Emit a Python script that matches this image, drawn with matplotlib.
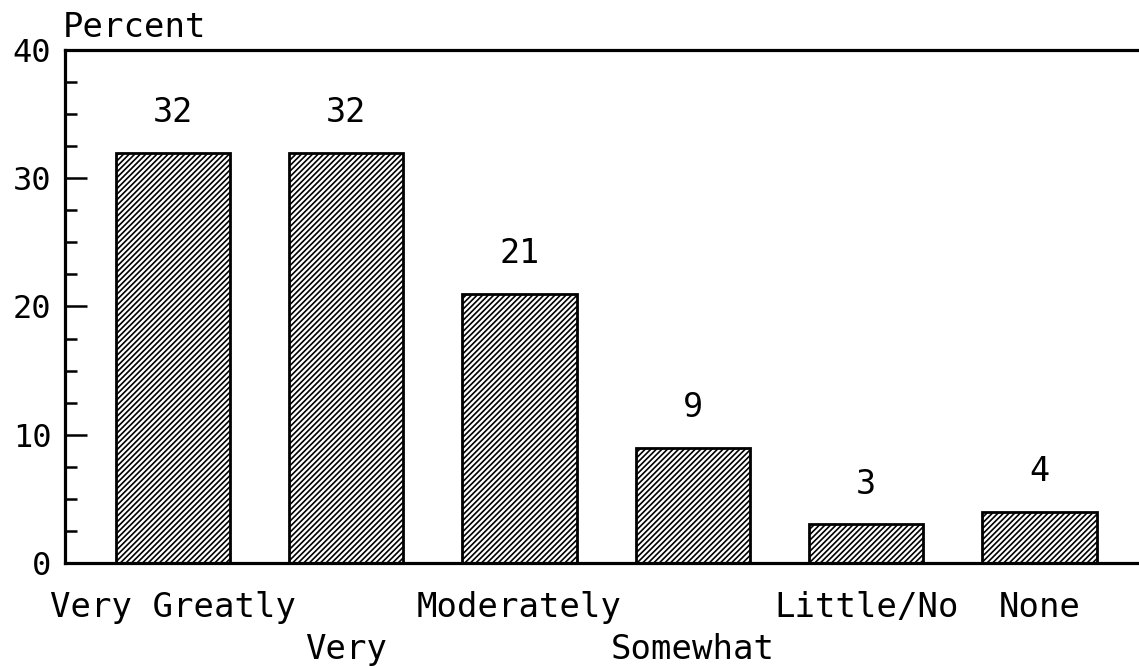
import matplotlib
matplotlib.use("Agg")
import matplotlib.pyplot as plt
from matplotlib.ticker import MultipleLocator

categories = ["Very Greatly", "Very", "Moderately", "Somewhat", "Little/No", "None"]
values = [32, 32, 21, 9, 3, 4]
label_row = [0, 1, 0, 1, 0, 0]
yticks = [0, 10, 20, 30, 40]

plt.rcParams['font.family'] = ['DejaVu Sans Mono']
plt.rcParams['hatch.linewidth'] = 1.2
plt.rcParams['hatch.color'] = 'black'

fig = plt.figure(figsize=(11.39, 6.66), dpi=100)
ax = fig.add_axes([0.0571, 0.1547, 0.9429, 0.7702])

x = list(range(len(categories)))
bars = ax.bar(x, values, width=0.66, facecolor='white', edgecolor='black',
              linewidth=2.0, hatch='//////', zorder=2)

for xi, v in zip(x, values):
    ax.annotate(str(v), (xi, v), xytext=(0, 29), textcoords='offset points',
                ha='center', va='center', fontsize=24)

ax.set_xlim(-0.623, 5.574)
ax.set_ylim(0, 40)
ax.set_yticks(yticks)
ax.set_yticklabels([str(t) for t in yticks], fontsize=23)
ax.yaxis.set_minor_locator(MultipleLocator(2.5))
ax.tick_params(axis='y', which='major', direction='in', length=16, width=1.8, pad=10)
ax.tick_params(axis='y', which='minor', direction='in', length=8.5, width=1.8)

ax.set_xticks(x)
labels = [c if r == 0 else "\n" + c for c, r in zip(categories, label_row)]
ax.set_xticklabels(labels, fontsize=24.5, linespacing=1.35, va='top')
ax.tick_params(axis='x', length=0, pad=20)

for s in ['left', 'top', 'bottom']:
    ax.spines[s].set_linewidth(2.3)
ax.spines['right'].set_visible(False)

ax.text(-0.002, 1.012, "Percent", transform=ax.transAxes, ha='left', va='bottom',
        fontsize=24.5)

fig.savefig("out.png", dpi=100)
